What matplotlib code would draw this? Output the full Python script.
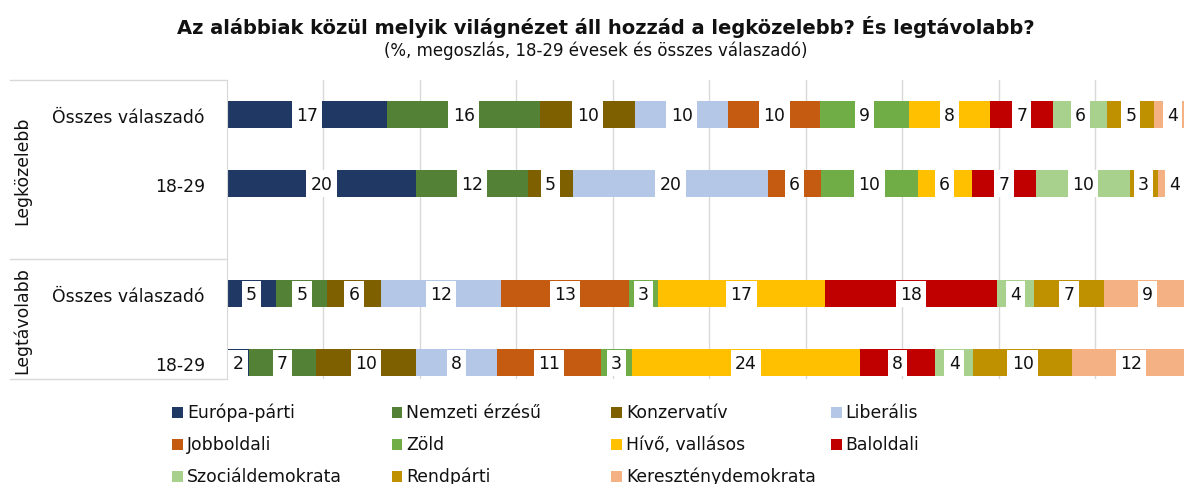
import numpy as np
import matplotlib
matplotlib.use("Agg")
import matplotlib.pyplot as plt
from matplotlib.patches import Rectangle

plt.rcParams['font.family'] = ['DejaVu Sans']

series = ["Európa-párti", "Nemzeti érzésű", "Konzervatív", "Liberális",
          "Jobboldali", "Zöld", "Hívő, vallásos", "Baloldali",
          "Szociáldemokrata", "Rendpárti", "Kereszténydemokrata"]
colors = ["#1F3864", "#538135", "#7F6000", "#B4C7E7",
          "#C55A11", "#70AD47", "#FFC000", "#C00000",
          "#A9D18E", "#BF9000", "#F4B183"]

rows = ["Összes válaszadó", "18-29", "Összes válaszadó", "18-29"]
groups = ["Legközelebb", "Legtávolabb"]

# percentages (labels are the rounded values)
closest_all = [16.6, 15.9, 9.8, 9.7, 9.5, 9.2, 8.4, 6.6, 5.6, 4.8, 3.9]
closest_young = [19.6, 11.6, 4.7, 20.2, 5.5, 10.0, 5.6, 6.7, 9.7, 2.9, 3.5]
furthest_all = [5.1, 5.3, 5.6, 12.4, 13.3, 3.0, 17.3, 17.8, 3.9, 7.2, 9.1]
furthest_young = [2.3, 6.9, 10.4, 8.4, 10.8, 3.2, 23.6, 7.8, 4.0, 10.2, 12.3]

data = np.array([closest_all, closest_young, furthest_all, furthest_young])
ypos = [0, 1, 2.6, 3.6]

W, H = 1184, 485
fig = plt.figure(figsize=(W / 100, H / 100), dpi=100)
ax = fig.add_axes([227 / W, 1 - 380 / H, 1 - 227 / W, 299 / H])

fs = 12.4
left = np.zeros(len(rows))
for i, name in enumerate(series):
    vals = data[:, i]
    ax.barh(ypos, vals, left=left, height=0.39, color=colors[i], zorder=2)
    for y, l, v in zip(ypos, left, vals):
        ax.text(l + v / 2, y, str(int(v + 0.5)), ha='center', va='center',
                fontsize=fs, color='#111111', zorder=3,
                bbox=dict(facecolor='white', edgecolor='none',
                          boxstyle='square,pad=0.25'))
    left += vals

ax.set_xlim(0, 957 / 9.644)
ax.set_ylim(3.833, -0.5)
ax.set_xticks(np.arange(10, 100, 10))
ax.xaxis.grid(True, color='#D9D9D9', linewidth=1)
ax.set_axisbelow(True)
ax.tick_params(axis='x', length=0, labelbottom=False)
ax.set_yticks(ypos)
ax.set_yticklabels(rows, fontsize=fs, color='#111111')
ax.tick_params(axis='y', length=0, pad=16)
for s in ['top', 'right', 'bottom']:
    ax.spines[s].set_visible(False)
ax.spines['left'].set_color('#D9D9D9')

# category box on the left
tr = ax.get_yaxis_transform()
for y in [-0.5, 2.101, 3.84]:
    ax.plot([-217 / 957, 0], [y, y], color='#D9D9D9', lw=1,
            transform=tr, clip_on=False)
ax.text(-205 / 957, 0.8, groups[0], rotation=90, ha='center', va='center',
        fontsize=fs, color='#111111', transform=tr)
ax.text(-205 / 957, 2.97, groups[1], rotation=90, ha='center', va='center',
        fontsize=fs, color='#111111', transform=tr)

fig.text(606 / W, 1 - 27 / H,
         "Az alábbiak közül melyik világnézet áll hozzád a legközelebb? És legtávolabb?",
         ha='center', va='center', fontsize=14, fontweight='bold', color='#111111')
fig.text(596 / W, 1 - 51 / H, "(%, megoszlás, 18-29 évesek és összes válaszadó)",
         ha='center', va='center', fontsize=12, color='#111111')

# legend, filled row by row like the original
for i, name in enumerate(series):
    c, r = i % 4, i // 4
    x0 = 172 + 219.5 * c
    yc = 413 + 32 * r
    fig.patches.append(Rectangle((x0 / W, 1 - (yc + 5.5) / H), 11 / W, 11 / H,
                                 facecolor=colors[i], edgecolor='none',
                                 transform=fig.transFigure))
    fig.text((x0 + 15) / W, 1 - yc / H, name, ha='left', va='center',
             fontsize=fs, color='#111111')

fig.savefig("out.png", dpi=100)
